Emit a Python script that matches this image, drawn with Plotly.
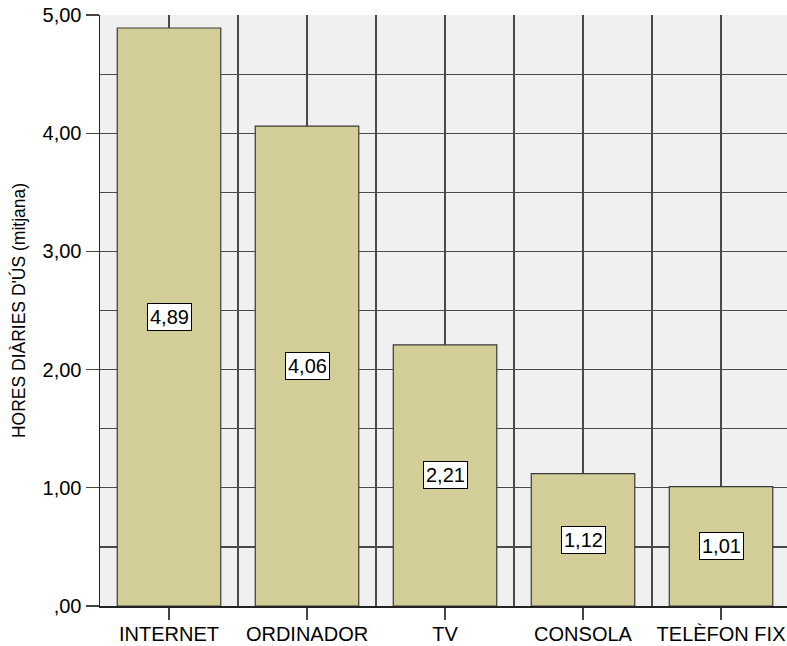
import plotly.graph_objects as go

categories = ["INTERNET", "ORDINADOR", "TV", "CONSOLA", "TELÈFON FIX"]
values = [4.89, 4.06, 2.21, 1.12, 1.01]
value_labels = ["4,89", "4,06", "2,21", "1,12", "1,01"]
y_tickvals = [0, 1, 2, 3, 4, 5]
y_ticktext = [",00", "1,00", "2,00", "3,00", "4,00", "5,00"]
y_title = "HORES DIÀRIES D'ÚS (mitjana)"

FONT = "Liberation Sans, Arial, sans-serif"
GRID = "#4a4a4a"

xpos = list(range(len(categories)))

fig = go.Figure()
fig.add_trace(go.Bar(
    x=xpos, y=values, width=0.75,
    marker=dict(color="#d3ce97", line=dict(color="#3a3a3a", width=1.2)),
    hoverinfo="skip",
))

for xi, v, lab in zip(xpos, values, value_labels):
    fig.add_annotation(
        x=xi, y=v / 2, text=lab, showarrow=False,
        font=dict(family=FONT, size=20, color="black"),
        bgcolor="white", bordercolor="black", borderwidth=1, borderpad=2,
    )

fig.update_layout(
    width=787, height=646,
    margin=dict(l=100, r=0, t=15, b=40, autoexpand=False),
    paper_bgcolor="white", plot_bgcolor="#f0f0f0",
    showlegend=False,
    font=dict(family=FONT, size=20, color="black"),
)

fig.update_xaxes(
    range=[-0.5, 4.478],
    tickmode="array", tickvals=xpos, ticktext=categories,
    tickfont=dict(family=FONT, size=20, color="black"),
    ticks="outside", ticklen=12, tickwidth=1.2, tickcolor="#444",
    ticklabelstandoff=-3,
    showline=True, linecolor="#222", linewidth=1.5,
    showgrid=True, gridcolor=GRID, gridwidth=1.2,
    zeroline=False, automargin=False,
    minor=dict(tickmode="linear", tick0=0.5, dtick=1, showgrid=True,
               gridcolor=GRID, gridwidth=1.2, ticks=""),
    fixedrange=True,
)

fig.update_yaxes(
    range=[0, 5],
    tickmode="array", tickvals=y_tickvals, ticktext=y_ticktext,
    tickfont=dict(family=FONT, size=20, color="black"),
    ticks="outside", ticklen=13, tickwidth=1.2, tickcolor="#444",
    showline=True, linecolor="#222", linewidth=1.5,
    showgrid=True, gridcolor=GRID, gridwidth=1.2,
    zeroline=False, automargin=False,
    minor=dict(tickmode="linear", tick0=0.5, dtick=1, showgrid=True,
               gridcolor=GRID, gridwidth=1.2, ticks=""),
    title=dict(text=y_title, font=dict(family=FONT, size=17.5, color="black"), standoff=12),
    fixedrange=True,
)

fig.write_html(
    "out.html",
    config={"displayModeBar": False, "staticPlot": True},
    post_script="document.body.style.margin='0';document.documentElement.style.overflow='hidden';",
)
